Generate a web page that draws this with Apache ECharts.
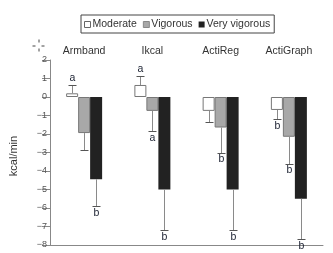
<!DOCTYPE html>
<html>
<head>
<meta charset="utf-8">
<script src="https://cdn.jsdelivr.net/npm/echarts@6/dist/echarts.min.js"></script>
<style>
  html, body { margin: 0; padding: 0; background: #fff; }
  #container { width: 333px; height: 253px; }
</style>
</head>
<body>
<div id="container"></div>
<script>
// data (kcal/min)
var categories = ['Armband', 'Ikcal', 'ActiReg', 'ActiGraph'];
var seriesNames = ['Moderate', 'Vigorous', 'Very vigorous'];
var moderate = [0.2, 0.65, -0.75, -0.7];
var vigorous = [-1.95, -0.75, -1.65, -2.15];
var veryVigorous = [-4.45, -5.0, -5.0, -5.5];
// end of the error whisker for each bar
var moderateErr = [0.65, 1.15, -1.35, -1.2];
var vigorousErr = [-2.85, -1.85, -3.0, -3.6];
var veryVigorousErr = [-5.9, -7.2, -7.2, -7.7];
// significance letters
var moderateTag = ['a', 'a', '', 'b'];
var vigorousTag = ['', 'a', 'b', 'b'];
var veryVigorousTag = ['b', 'b', 'b', 'b'];
var yTicks = [2, 1, 0, -1, -2, -3, -4, -5, -6, -7, -8];

var values = [moderate, vigorous, veryVigorous];
var errs = [moderateErr, vigorousErr, veryVigorousErr];
var tags = [moderateTag, vigorousTag, veryVigorousTag];

var barW = 12;
var fontFam = '"Liberation Sans", Arial, sans-serif';
var colors = ['#ffffff', '#a8a8a8', '#222222'];

// whisker data: [category, group, end]
var errData = [];
for (var g = 0; g < 3; g++) {
  for (var i = 0; i < categories.length; i++) {
    errData.push([i, g, errs[g][i]]);
  }
}

function renderErr(params, api) {
  var ci = api.value(0);
  var g = api.value(1);
  var end = api.value(2);
  var base = values[g][ci];
  var p0 = api.coord([ci, base]);
  var p1 = api.coord([ci, end]);
  var x = Math.round(p0[0] + (g - 1) * barW) + 0.5;
  var up = end > base;
  var tag = tags[g][ci];
  var yc = Math.round(p1[1]) + 0.5;
  var kids = [
    { type: 'line', shape: { x1: x, y1: p0[1], x2: x, y2: yc },
      style: { stroke: '#8a8a8a', lineWidth: 1 } },
    { type: 'line', shape: { x1: x - 4, y1: yc, x2: x + 4, y2: yc },
      style: { stroke: '#555', lineWidth: 1 } }
  ];
  if (tag) {
    kids.push({
      type: 'text',
      style: {
        text: tag, x: x, y: up ? p1[1] - 1 : p1[1] + 1,
        align: 'center', verticalAlign: up ? 'bottom' : 'top',
        fontSize: 10.5, fontFamily: fontFam, fill: '#1a2030'
      }
    });
  }
  return { type: 'group', children: kids };
}

var barSeries = seriesNames.map(function (name, g) {
  return {
    name: name,
    type: 'bar',
    data: values[g],
    barWidth: barW,
    barGap: '0%',
    itemStyle: {
      color: colors[g],
      borderColor: g === 2 ? '#222' : '#777',
      borderWidth: g === 2 ? 0 : 1
    },
    emphasis: { disabled: true },
    z: 2
  };
});

var option = {
  animation: false,
  backgroundColor: '#fff',
  textStyle: { fontFamily: fontFam },
  legend: {
    top: 15,
    left: 81,
    padding: [4, 4, 3, 3],
    borderColor: '#444',
    borderWidth: 1,
    itemWidth: 6,
    itemHeight: 6,
    itemGap: 6,
    icon: 'rect',
    selectedMode: false,
    textStyle: { fontSize: 10.5, color: '#333', padding: [0, 0, 0, -3], fontFamily: fontFam },
    data: [
      { name: 'Moderate', itemStyle: { color: '#fff', borderColor: '#666', borderWidth: 1 } },
      { name: 'Vigorous', itemStyle: { color: '#a8a8a8', borderColor: '#888', borderWidth: 1 } },
      { name: 'Very vigorous', itemStyle: { color: '#222', borderWidth: 0 } }
    ]
  },
  grid: { left: 47, right: 10, top: 60, bottom: 8, containLabel: false },
  xAxis: [{
    type: 'category',
    data: categories,
    position: 'top',
    axisLine: { show: false },
    axisTick: { show: false },
    axisLabel: { color: '#333', fontSize: 10.5, margin: 3, fontFamily: fontFam }
  }, {
    type: 'category',
    data: categories,
    position: 'bottom',
    axisLine: { show: true, onZero: true, lineStyle: { color: '#888', width: 1 } },
    axisTick: { show: false },
    axisLabel: { show: false }
  }],
  yAxis: {
    type: 'value',
    min: -8,
    max: 2,
    interval: 1,
    name: 'kcal/min',
    nameLocation: 'middle',
    nameRotate: 90,
    nameGap: 31,
    nameTextStyle: { color: '#333', fontSize: 11, fontFamily: fontFam, padding: [0, 7, 0, 0] },
    splitLine: { show: false },
    axisLine: { show: true, lineStyle: { color: '#888' } },
    axisTick: { show: true, length: 8, lineStyle: { color: '#888' } },
    axisLabel: {
      color: '#555', fontSize: 9, margin: 3, fontFamily: fontFam,
      formatter: function (v) { return v < 0 ? '\u2212' + (-v) : String(v); }
    }
  },
  graphic: [{
    type: 'group', left: 30, top: 37, silent: true,
    children: [
      { type: 'line', shape: { x1: 0, y1: 6.5, x2: 3, y2: 6.5 }, style: { stroke: '#444' } },
      { type: 'line', shape: { x1: 9, y1: 6.5, x2: 12, y2: 6.5 }, style: { stroke: '#444' } },
      { type: 'line', shape: { x1: 6.5, y1: 0, x2: 6.5, y2: 3 }, style: { stroke: '#444' } },
      { type: 'line', shape: { x1: 6.5, y1: 9, x2: 6.5, y2: 12 }, style: { stroke: '#444' } }
    ]
  }],
  series: barSeries.concat([{
    type: 'custom',
    name: 'err',
    renderItem: renderErr,
    data: errData,
    encode: { x: 0, y: 2 },
    silent: true,
    z: 3
  }])
};

var chart = echarts.init(document.getElementById('container'));
chart.setOption(option);
</script>
</body>
</html>
